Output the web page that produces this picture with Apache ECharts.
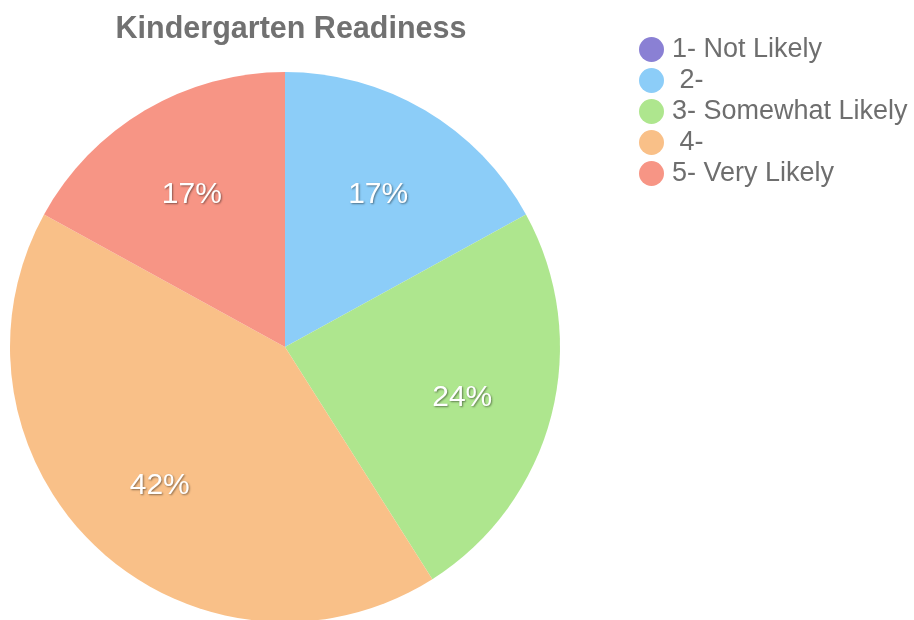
<!DOCTYPE html>
<html>
<head>
<meta charset="utf-8">
<script src="https://cdn.jsdelivr.net/npm/echarts@6/dist/echarts.min.js"></script>
<style>html,body{margin:0;padding:0;background:#fff}#c{width:914px;height:620px}</style>
</head>
<body>
<div id="c"></div>
<script>
const titleText = 'Kindergarten Readiness';
const categories = ['1- Not Likely', ' 2-', '3- Somewhat Likely', ' 4-', '5- Very Likely'];
const values = [0, 17, 24, 42, 17];
const colors = ['#8a80d4', '#8ccdf8', '#aee68e', '#f9c088', '#f79585'];

const chart = echarts.init(document.getElementById('c'), null, {renderer: 'canvas'});
const data = categories.map((n, i) => ({name: n, value: values[i], itemStyle: {color: colors[i]}}));
const total = values.reduce((a, b) => a + b, 0);
chart.setOption({
  animation: false,
  title: {
    text: titleText, left: 286, top: 9, textAlign: 'center',
    textStyle: {fontFamily: 'Liberation Sans', fontSize: 30.5, fontWeight: 'bold', color: '#717171'}
  },
  legend: {
    orient: 'vertical', left: 634, top: 31, icon: 'circle',
    itemWidth: 25, itemHeight: 25, itemGap: 4,
    data: categories,
    textStyle: {fontFamily: 'Liberation Sans', fontSize: 27, lineHeight: 27, color: '#6e6e6e', padding: [0, 0, 0, 3]}
  },
  series: [{
    type: 'pie', center: [285, 347], radius: [0, 275], startAngle: 90,
    clockwise: true, silent: true, label: {show: false}, labelLine: {show: false},
    data: data
  }, {
    type: 'pie', center: [285, 347], radius: [85, 275], startAngle: 90,
    clockwise: true, silent: true, legendHoverLink: false,
    itemStyle: {color: 'rgba(0,0,0,0)'},
    label: {
      show: true, position: 'inside', offset: [0, 5],
      formatter: p => p.value ? Math.round(p.value / total * 100) + '%' : '',
      fontFamily: 'Liberation Sans', fontSize: 30, color: '#ffffff',
      textShadowColor: 'rgba(0,0,0,0.45)', textShadowBlur: 2, textShadowOffsetX: 1, textShadowOffsetY: 1
    },
    data: categories.map((n, i) => ({name: n + '_l', value: values[i]}))
  }]
});
</script>
</body>
</html>
